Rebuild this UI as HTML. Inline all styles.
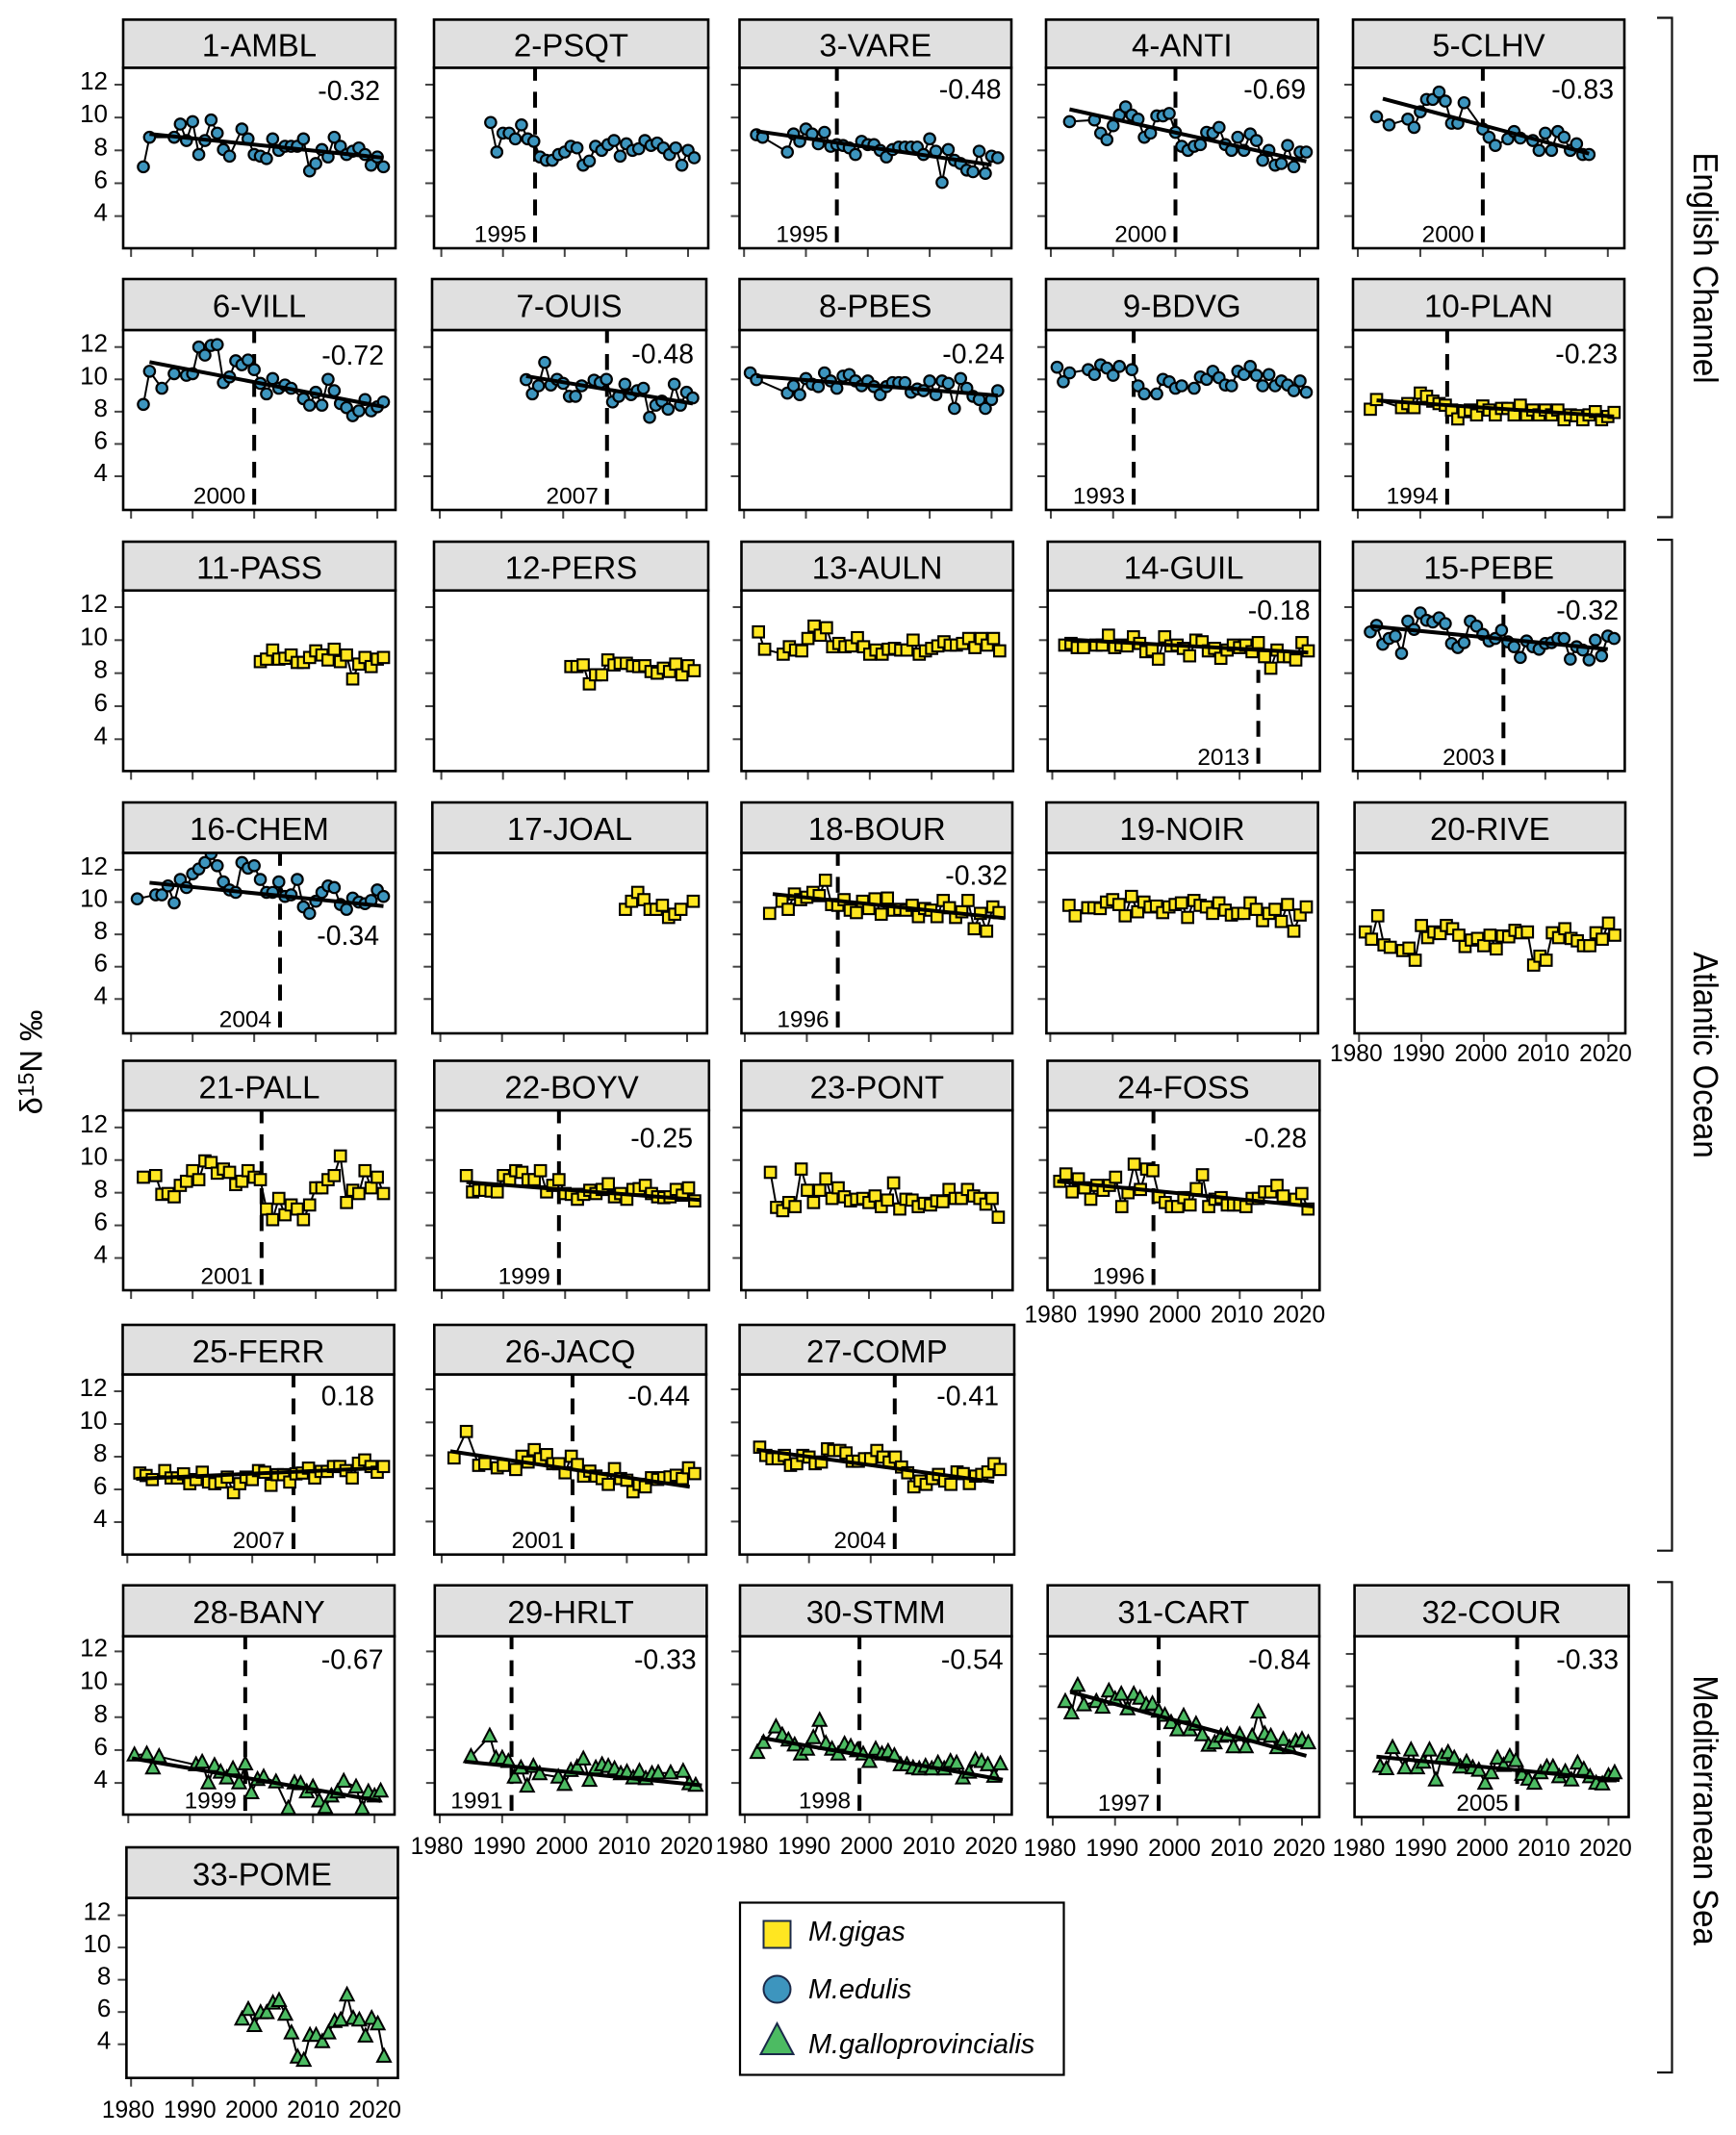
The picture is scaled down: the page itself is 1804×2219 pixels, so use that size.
<!DOCTYPE html>
<html lang="en">
<head>
<meta charset="utf-8">
<title>δ15N time series by site</title>
<style>
html,body{margin:0;padding:0;background:#fff;}
svg{display:block;font-family:"Liberation Sans",sans-serif;}
</style>
</head>
<body>
<svg id="chart" xmlns="http://www.w3.org/2000/svg" width="1804" height="2219" viewBox="0 0 1804 2219">
  <rect x="0" y="0" width="1804" height="2219" fill="#fff"/>
  <g id="panels"></g>

  <text transform="translate(43.5,1104) rotate(-90)" text-anchor="middle" font-size="32.5" fill="#000">δ<tspan font-size="23" dy="-8.5">15</tspan><tspan dy="8.5">N ‰</tspan></text>

  <path d="M1722 18.5H1737.5V537.5H1722" fill="none" stroke="#111" stroke-width="2.2"/>
  <path d="M1722 561H1737.5V1611.7H1722" fill="none" stroke="#111" stroke-width="2.2"/>
  <path d="M1722 1644.3H1737.5V2154H1722" fill="none" stroke="#111" stroke-width="2.2"/>

  <text transform="translate(1760,278.5) rotate(90) scale(1,1.09)" text-anchor="middle" font-size="33" fill="#000">English Channel</text>
  <text transform="translate(1760,1096.5) rotate(90) scale(1,1.09)" text-anchor="middle" font-size="33" fill="#000">Atlantic Ocean</text>
  <text transform="translate(1760,1881.5) rotate(90) scale(1,1.09)" text-anchor="middle" font-size="33" fill="#000">Mediterranean Sea</text>

  <g>
    <rect x="769" y="1977.5" width="336.5" height="179" fill="#fff" stroke="#000" stroke-width="2.2"/>
    <rect x="793.5" y="1996.5" width="28" height="28" fill="#FFE621" stroke="#1b2a4a" stroke-width="2"/>
    <text x="840" y="2017" font-size="28.8" font-style="italic" fill="#000">M.gigas</text>
    <circle cx="807.5" cy="2067.5" r="14" fill="#3D95BE" stroke="#1b2a4a" stroke-width="2"/>
    <text x="840" y="2077" font-size="28.8" font-style="italic" fill="#000">M.edulis</text>
    <polygon points="807.5,2103 824.5,2135 790.5,2135" fill="#4CBB62" stroke="#1b2a4a" stroke-width="2"/>
    <text x="840" y="2134" font-size="28.8" font-style="italic" fill="#000">M.galloprovincialis</text>
  </g>
</svg>

<script>
/* ---------- data ---------- */
const siteNames = ["1-AMBL","2-PSQT","3-VARE","4-ANTI","5-CLHV","6-VILL","7-OUIS","8-PBES","9-BDVG","10-PLAN","11-PASS","12-PERS","13-AULN","14-GUIL","15-PEBE","16-CHEM","17-JOAL","18-BOUR","19-NOIR","20-RIVE","21-PALL","22-BOYV","23-PONT","24-FOSS","25-FERR","26-JACQ","27-COMP","28-BANY","29-HRLT","30-STMM","31-CART","32-COUR","33-POME"];
const siteSpecies = ["edulis","edulis","edulis","edulis","edulis","edulis","edulis","edulis","edulis","gigas","gigas","gigas","gigas","gigas","edulis","edulis","gigas","gigas","gigas","gigas","gigas","gigas","gigas","gigas","gigas","gigas","gigas","gallo","gallo","gallo","gallo","gallo","gallo"];
const slopeLabels = ["-0.32",null,"-0.48","-0.69","-0.83","-0.72","-0.48","-0.24",null,"-0.23",null,null,null,"-0.18","-0.32","-0.34",null,"-0.32",null,null,null,"-0.25",null,"-0.28","0.18","-0.44","-0.41","-0.67","-0.33","-0.54","-0.84","-0.33",null];
const breakLabels = [null,"1995","1995","2000","2000","2000","2007",null,"1993","1994",null,null,null,"2013","2003","2004",null,"1996",null,null,"2001","1999",null,"1996","2007","2001","2004","1999","1991","1998","1997","2005",null];
const breakYears = [null,1995.2,1995,2000,2000,2000,2007.1,null,1993.3,1994.3,null,null,null,2013,2003.3,2004.2,null,1995,null,null,2001.2,1999,null,1996.1,2006.6,2001.2,2003.9,1999,1991.5,1998.4,1997,2005.2,null];
const firstYears = [1982,1988,1982,1983,1983,1982,1994,1981,1981,1982,2001,2001,1982,1982,1982,1981,2010,1984,1983,1981,1982,1984,1984,1981,1982,1982,1982,1981,1985,1982,1982,1983,1998];

const values01 = [7.0,8.8,null,null,null,8.8,9.6,8.6,9.75,7.75,8.6,9.85,9.05,8.05,7.65,null,9.3,8.7,7.75,7.65,7.5,8.7,8.0,8.25,8.25,8.25,8.7,6.75,7.2,8.05,7.6,8.8,8.25,7.75,7.95,8.15,7.75,7.1,7.6,7.0];
const values02 = [9.7,7.9,9.05,9.05,8.7,9.55,8.7,8.55,7.6,7.4,7.4,7.75,7.9,8.25,8.15,7.1,7.35,8.25,8.0,8.35,8.6,7.65,8.4,8.0,8.1,8.6,8.3,8.45,8.15,7.75,8.15,7.1,8.0,7.55];
const values03 = [8.95,8.8,null,null,null,7.9,9.0,8.55,9.3,9.0,8.4,9.1,8.25,8.35,8.3,8.15,7.75,8.55,8.35,8.35,8.0,7.6,8.05,8.2,8.2,8.2,8.2,7.75,8.7,7.95,6.05,8.05,7.4,7.2,6.8,6.7,7.95,6.6,7.65,7.55];
const values04 = [9.75,null,null,null,9.85,9.05,8.65,9.5,10.15,10.65,10.15,9.9,8.8,9.05,10.1,10.1,10.25,9.1,8.25,8.0,8.25,8.35,9.1,9.05,9.4,8.35,8.0,8.8,8.0,9.0,8.6,7.4,8.0,7.1,7.2,8.3,7.0,7.9,7.9];
const values05 = [10.05,null,9.55,null,null,9.9,9.4,10.35,11.1,11.1,11.55,11.0,9.65,9.65,10.9,null,null,9.3,8.8,8.3,null,8.7,9.15,8.75,null,8.6,8.0,9.05,8.0,9.15,8.8,8.0,8.4,7.75,7.75];
const values06 = [8.45,10.5,null,9.45,null,10.35,null,10.25,10.35,12.0,11.5,12.1,12.15,9.8,10.15,11.15,10.9,11.2,10.6,9.75,9.1,10.05,9.45,9.65,9.45,null,8.8,8.4,9.2,8.4,10.0,9.3,8.5,8.25,7.75,8.05,8.75,8.05,8.3,8.6];
const values07 = [9.98,9.1,9.6,11.05,9.65,10.0,9.75,8.95,8.95,9.6,null,9.95,9.8,10.0,8.6,8.95,9.7,9.05,9.3,9.45,7.65,8.4,8.65,8.15,9.7,8.4,9.2,8.85];
const values08 = [10.4,9.98,null,null,null,null,9.15,9.6,9.05,10.05,9.7,9.55,10.4,9.9,9.45,10.2,10.3,9.9,9.6,9.9,9.55,9.05,9.55,9.8,9.8,9.8,9.2,9.4,9.3,9.9,9.05,9.9,9.75,8.2,10.05,9.45,8.95,8.75,8.2,8.75,9.3];
const values09 = [10.75,9.85,10.4,null,null,10.6,10.3,10.9,10.7,10.25,10.8,null,10.6,9.6,9.1,null,9.1,10.0,9.85,9.45,9.6,null,9.45,10.15,10.0,10.5,10.1,9.65,9.6,10.5,10.3,10.8,10.25,9.6,10.3,9.6,9.9,9.65,9.3,9.9,9.2];
const values10 = [8.15,8.75,null,null,null,8.25,8.5,8.25,9.15,8.95,8.65,8.5,8.4,8.1,7.55,8.0,8.1,7.8,8.35,8.1,7.8,8.2,8.2,7.8,8.4,7.8,8.1,7.8,8.1,7.8,8.1,7.5,7.8,7.75,7.5,7.8,8.0,7.5,7.7,7.95];
const values11 = [8.7,8.85,9.4,8.85,8.9,9.1,8.65,8.65,8.95,9.35,9.1,8.8,9.45,8.7,9.1,7.65,8.55,8.95,8.4,8.85,8.95];
const values12 = [8.4,8.4,8.5,7.35,7.9,7.9,8.8,8.5,8.6,8.6,8.45,8.4,8.45,8.1,8.0,8.3,8.1,8.55,7.9,8.45,8.15];
const values13 = [10.5,9.45,null,null,9.15,9.6,9.4,9.35,10.1,10.85,10.3,10.75,9.6,9.8,9.6,9.65,10.15,9.6,9.15,9.4,9.15,9.45,9.5,9.4,9.4,10.0,9.15,9.35,9.5,9.65,9.9,9.7,9.7,9.8,10.1,9.55,10.1,9.7,10.1,9.35];
const values14 = [9.7,9.8,9.55,9.55,null,9.7,9.7,10.3,9.55,9.7,9.65,10.2,9.8,9.3,9.4,8.85,10.2,9.65,9.7,9.5,9.05,10.0,9.9,9.35,9.5,8.9,9.4,9.7,9.55,9.7,9.3,9.85,9.0,8.3,9.4,9.0,9.0,8.8,9.85,9.35];
const values15 = [10.5,10.9,9.75,10.1,10.25,9.2,11.15,10.65,11.65,11.2,11.1,11.35,11.0,9.8,9.55,9.85,11.15,10.85,10.35,9.95,10.1,10.6,9.9,9.6,8.95,9.95,9.6,9.45,9.8,9.85,10.1,10.1,8.85,9.6,9.4,8.8,10.0,9.05,10.25,10.1];
const values16 = [10.2,null,null,10.45,10.45,11.0,9.95,11.4,10.9,11.75,12.05,12.45,13.0,12.25,11.25,10.75,10.6,12.45,12.1,12.25,11.4,10.6,10.6,11.25,10.35,10.45,11.4,9.7,9.3,10.05,10.6,11.0,10.9,9.85,9.55,10.25,10.0,9.9,10.1,10.75,10.35];
const values17 = [9.55,10.05,10.6,10.15,9.55,9.55,9.8,9.05,9.25,9.55,null,10.05];
const values18 = [9.3,null,10.05,9.55,10.5,10.15,10.3,10.6,10.4,11.35,9.85,9.8,10.15,9.5,9.35,10.05,9.6,10.2,9.25,10.25,9.5,9.55,9.5,9.8,9.1,9.6,9.5,9.1,10.1,9.65,9.05,9.4,10.1,8.35,9.3,8.2,9.7,9.35];
const values19 = [9.8,9.15,null,9.65,9.65,9.6,10.0,10.15,9.85,9.15,10.35,9.4,10.0,9.7,9.75,9.35,9.7,9.85,9.95,9.05,10.1,9.8,9.7,9.3,9.95,9.5,9.2,9.3,9.3,9.95,9.55,8.85,9.3,9.55,8.8,9.85,8.2,9.2,9.7];
const values20 = [8.15,7.7,9.15,7.35,7.2,null,7.0,7.15,6.4,8.55,7.8,8.15,8.05,8.55,8.35,7.95,7.25,7.65,7.75,7.3,7.95,7.1,7.9,7.85,8.25,8.1,8.15,6.1,6.65,6.4,8.1,7.8,8.35,7.75,7.6,7.3,7.3,8.1,7.7,8.7,7.95];
const values21 = [8.95,null,9.05,7.9,7.95,7.75,8.45,8.7,9.35,8.8,9.95,9.85,9.2,9.45,9.25,8.5,8.7,9.35,8.95,8.8,7.0,6.35,7.65,6.65,7.25,7.0,6.35,7.25,8.3,8.3,8.8,9.05,10.25,7.4,8.15,7.95,9.35,8.3,8.95,7.95];
const values22 = [9.05,8.05,8.15,8.15,8.1,8.05,9.05,8.8,9.35,9.25,8.8,8.8,9.35,8.05,8.45,8.8,7.95,7.9,7.6,7.9,8.15,7.95,8.2,8.55,7.75,7.95,7.6,8.2,8.25,8.45,7.95,7.75,7.7,7.75,8.2,7.85,8.3,7.5];
const values23 = [9.25,7.1,6.9,7.4,7.15,9.45,8.15,7.4,8.15,8.85,7.65,8.3,7.75,7.5,7.6,7.65,7.4,7.8,7.15,7.55,8.6,7.0,7.6,7.55,7.15,7.35,7.25,7.5,7.45,8.2,7.65,7.65,8.2,7.8,7.65,7.3,7.65,6.5];
const values24 = [8.7,9.15,8.05,8.85,8.3,7.6,8.45,8.15,8.45,8.95,7.15,8.0,9.75,8.2,9.45,9.35,7.75,7.4,7.15,7.15,7.7,7.25,8.25,9.1,7.15,7.6,7.7,7.25,7.25,7.25,7.15,7.65,7.65,8.05,8.05,8.45,7.8,null,7.6,7.95,7.0];
const values25 = [7.0,6.85,6.6,null,7.15,6.7,6.7,6.95,6.35,6.6,7.05,6.45,6.35,6.45,6.75,5.8,6.35,6.75,6.6,7.15,7.05,6.25,6.9,6.9,6.45,6.95,7.0,7.3,6.7,7.1,7.1,7.4,7.4,7.15,6.7,7.6,7.8,7.4,7.05,7.4];
const values26 = [7.85,null,9.45,null,7.4,7.5,null,7.25,7.4,null,7.15,7.95,7.6,8.35,7.8,8.05,7.5,7.5,6.95,7.95,7.45,6.75,7.05,6.75,6.6,6.25,7.2,6.6,6.5,5.8,6.25,6.1,6.65,6.55,6.65,6.7,6.8,6.6,7.25,6.9];
const values27 = [8.5,8.0,7.8,7.8,8.0,7.4,7.5,8.0,7.9,7.5,7.6,8.4,8.3,8.3,8.15,7.65,7.65,7.8,7.8,8.3,7.9,7.6,7.9,7.3,6.95,6.1,6.45,6.25,6.6,6.85,6.45,6.25,7.0,6.9,6.3,6.75,6.85,7.0,7.5,7.15];
const values28 = [5.7,null,5.75,4.9,5.6,null,null,null,null,null,5.1,5.25,4.0,5.05,4.65,4.3,4.85,4.0,5.15,3.4,4.2,4.35,null,4.05,null,2.45,4.0,3.95,3.45,3.75,2.9,2.5,3.2,3.45,4.1,null,3.75,2.45,3.45,3.2,3.5];
const values29 = [5.6,null,null,6.85,5.5,5.5,5.3,4.35,4.9,3.8,5.0,4.55,null,null,4.35,3.9,4.75,4.95,5.45,4.15,4.9,5.1,5.0,4.85,4.55,4.65,4.3,4.7,4.25,4.55,4.6,null,4.6,null,4.7,3.95,3.85];
const values30 = [5.85,6.45,null,7.4,6.9,6.6,6.3,5.75,6.05,6.75,7.8,6.4,6.05,5.75,6.35,6.2,5.95,5.75,5.3,6.05,5.75,5.9,5.65,5.1,5.1,4.9,4.85,5.0,4.85,5.2,4.85,5.3,5.2,4.3,4.65,5.4,5.3,5.1,4.4,5.15];
const values31 = [9.05,8.35,10.05,8.85,null,9.05,8.7,9.7,9.2,9.5,8.6,9.5,9.25,8.85,8.9,8.45,8.2,7.75,7.3,8.15,7.3,7.65,7.0,6.35,6.5,6.9,7.0,6.25,7.0,6.25,6.9,8.4,7.05,6.9,6.2,6.7,6.2,6.6,6.7,6.5];
const values32 = [5.05,4.9,6.2,null,4.95,6.05,4.95,5.3,6.05,4.2,5.65,5.9,5.55,5.0,5.3,4.95,4.8,4.0,4.65,5.55,5.1,5.65,5.4,4.55,4.25,4.0,4.65,5.0,5.0,4.4,4.7,4.2,5.25,4.85,4.4,4.0,3.95,4.45,4.65];
const values33 = [5.55,6.15,5.15,5.95,5.95,6.55,6.7,5.85,4.7,3.2,3.0,4.55,4.55,4.15,4.7,5.4,5.5,7.05,5.6,5.5,4.5,5.6,5.25,3.25];
const allValues = [values01,values02,values03,values04,values05,values06,values07,values08,values09,values10,values11,values12,values13,values14,values15,values16,values17,values18,values19,values20,values21,values22,values23,values24,values25,values26,values27,values28,values29,values30,values31,values32,values33];

const trendStartYear = [1983,null,1982,1983,1984,1983,1994,1982,null,1983,null,null,null,1982,1982,1983,null,1984.5,null,null,null,1984,null,1980.6,1981.4,1981.4,1981.5,1980.6,1984,1982.6,1982.8,1982.4,null];
const trendEndYear = [2021,null,2020,2021,2017,2021,2021,2021,null,2021,null,null,null,2021,2020,2021,null,2022,null,null,null,2022,null,2022,2020,2020.2,2020,2021,2022,2021.4,2020.7,2021.8,null];
const trendStartValue = [9.0,null,9.17,10.5,11.15,11.07,10.2,10.2,null,8.7,null,null,null,10.05,10.85,11.2,null,10.5,null,null,null,8.65,null,8.7,6.65,8.25,8.35,5.5,5.3,6.75,9.65,5.65,null];
const trendEndValue = [7.55,null,7.12,7.33,7.8,8.3,8.5,9.0,null,7.7,null,null,null,9.25,9.45,9.75,null,9.0,null,null,null,7.55,null,7.15,7.3,6.1,6.4,2.9,3.85,4.2,5.7,4.2,null];

const yTickValues = [12,10,8,6,4];
const xTickValues = [1980,1990,2000,2010,2020];

/* ---------- layout (pixels, not data) ---------- */
const boxLeft   = [128,451,768.5,1087,1406, 128,449,768.5,1087,1406, 128,451,770.5,1088.7,1406, 128,449.3,770.5,1087.4,1407.6, 128,451.3,770.3,1088.5, 127.5,451.3,768.6, 128,451.8,769,1088.7,1407.6, 131.4];
const boxRight  = [411,736,1051,1369.6,1688, 411,734,1051,1369.6,1688, 411,736,1052.8,1371.6,1688.4, 411,734.8,1052,1369.6,1689, 411,736.8,1052.3,1371.3, 409.6,733.9,1054, 410,734.4,1051.4,1371,1692.5, 413.5];
const rowTop    = [20.4,290,563,834,1102.5,1377,1647.7,1920];
const rowStrip  = [70.4,343,613.7,886.4,1154,1428.5,1700.6,1972.6];
const rowBottom = [258,530,801.4,1074,1341,1615.7,1886,2159.7];
const panelRow  = [0,0,0,0,0,1,1,1,1,1,2,2,2,2,2,3,3,3,3,3,4,4,4,4,5,5,5,6,6,6,6,6,7];
const bottomOverride = {30:1888.5,31:1888.5};
const tick1980  = [136.2,458.6,773.2,1092,1411, 136.2,457,773.2,1092,1411, 136.2,458.6,775.3,1093.5,1411, 136.2,457.6,774,1091.4,1412.3, 136.2,459,775,1094.8, 132.3,459,776.6, 133.3,457,774,1094,1415, 136.2];
const tick2020  = [392.1,715,1030.4,1351,1670.8, 392.1,713.5,1030.4,1351,1670.8, 392.1,715,1032.4,1353,1670.8, 392.1,714,1031.7,1351,1671.5, 392.1,715.5,1031,1352.8, 392,715.5,1033, 389.2,716.4,1033,1353,1671.5, 392.6];
const tick12    = [88,88,88,88,88, 360.7,360.7,360.7,360.7,360.7, 631,631,631,631,631, 904,904,904,904,904, 1171.8,1171.8,1171.8,1171.8, 1446,1444,1444, 1716.4,1716.4,1716.4,1719,1719, 1990.6];
const tick4     = [224.6,224.6,224.6,224.6,224.6, 495,495,495,495,495, 768.3,768.3,768.3,768.3,768.3, 1038.3,1038.3,1038.3,1038.3,1038.3, 1307.5,1307.5,1307.5,1307.5, 1582,1581.4,1581.4, 1853.1,1853.1,1853.1,1853.5,1853.5, 2124.7];
const slopeRight = [395,0,1040.5,1357,1677, 399,721,1044,0,1681, 0,0,0,1361.5,1682, 394,0,1047,0,0, 0,720,0,1358, 389,717,1038, 398.5,723.7,1042.6,1362,1682, 0];
const slopeBase  = [104,0,102.5,102.5,102.5, 379,377.5,377.5,0,377.5, 0,0,0,644,644, 982,0,919.5,0,0, 0,1192.5,0,1192.5, 1460.4,1460.4,1460.4, 1734.4,1734.4,1734.4,1734.4,1734.4, 0];
const yLabelPanels = [0,5,10,15,20,24,27,32];
const xLabelPanels = {19:29,23:33.6,28:41,29:41,30:40.5,31:40.5,32:41.4};
const breakLineStart = {13:8.2};

const NS = "http://www.w3.org/2000/svg";
const speciesFill = {gigas:"#FFE621",edulis:"#3D95BE",gallo:"#4CBB62"};

function make(tag, attrs, parent){
  const el = document.createElementNS(NS, tag);
  for (const k in attrs) el.setAttribute(k, attrs[k]);
  parent.appendChild(el);
  return el;
}
function xAxis(i){
  const a = tick1980[i], b = (tick2020[i]-tick1980[i])/40;
  return function(year){ return a + (year-1980)*b; };
}
function yAxis(i){
  const a = tick4[i], b = (tick12[i]-tick4[i])/8;
  return function(v){ return a + (v-4)*b; };
}

const root = document.getElementById("panels");

siteNames.forEach(function(name, i){
  const r = panelRow[i];
  const L = boxLeft[i], R = boxRight[i], T = rowTop[r], S = rowStrip[r];
  const B = bottomOverride[i] !== undefined ? bottomOverride[i] : rowBottom[r];
  const X = xAxis(i), Y = yAxis(i);
  const key = name.toLowerCase();

  const g = make("g", {}, root);
  
  

  const plot = make("rect", {x:L, y:S, width:R-L, height:B-S, fill:"#fff"}, g);
  
  

  const clip = make("clipPath", {id:"clip"+i}, g);
  make("rect", {x:L, y:S, width:R-L, height:B-S}, clip);

  /* ticks */
  yTickValues.forEach(function(v){
    const t = make("line", {x1:L-9, x2:L, y1:Y(v), y2:Y(v), stroke:"#444", "stroke-width":2}, g);
    
    
    if (yLabelPanels.indexOf(i) >= 0){
      const lab = make("text", {x:L-16, y:Y(v)+5, "text-anchor":"end", "font-size":26, fill:"#000"}, g);
      lab.textContent = v;
      
      
    }
  });
  xTickValues.forEach(function(yr){
    const t = make("line", {x1:X(yr), x2:X(yr), y1:B, y2:B+9, stroke:"#444", "stroke-width":2}, g);
    
    
    if (xLabelPanels[i] !== undefined){
      const lab = make("text", {x:X(yr)-3, y:B+xLabelPanels[i], "text-anchor":"middle", "font-size":24.6, fill:"#000"}, g);
      lab.textContent = yr;
      
      
    }
  });

  const clipped = make("g", {"clip-path":"url(#clip"+i+")"}, g);
  
  

  /* break line */
  if (breakYears[i] !== null){
    const bx = X(breakYears[i]);
    const startY = breakLineStart[i] !== undefined ? Y(breakLineStart[i]) : S;
    const br = make("line", {x1:bx, x2:bx, y1:startY, y2:B, stroke:"#000", "stroke-width":4, "stroke-dasharray":"16.5 11.5", "stroke-dashoffset":3}, clipped);
    
    
  }

  /* series */
  const vals = allValues[i];
  const pts = [];
  vals.forEach(function(v, k){
    if (v !== null) pts.push([firstYears[i]+k, v]);
  });
  const line = make("polyline", {points:pts.map(function(p){return X(p[0]).toFixed(1)+","+Y(p[1]).toFixed(1);}).join(" "), fill:"none", stroke:"#000", "stroke-width":2}, clipped);
  
  

  const sp = siteSpecies[i], fill = speciesFill[sp];
  pts.forEach(function(p){
    const cx = X(p[0]), cy = Y(p[1]);
    let m;
    if (sp === "edulis"){
      m = make("circle", {cx:cx, cy:cy, r:5.7, fill:fill, stroke:"#000", "stroke-width":2.2}, clipped);
    } else if (sp === "gigas"){
      m = make("rect", {x:cx-5.8, y:cy-5.8, width:11.6, height:11.6, fill:fill, stroke:"#000", "stroke-width":2.1}, clipped);
    } else {
      m = make("polygon", {points:[[cx,cy-7.8],[cx+7,cy+5.6],[cx-7,cy+5.6]].map(function(q){return q[0].toFixed(1)+","+q[1].toFixed(1);}).join(" "), fill:fill, stroke:"#000", "stroke-width":2}, clipped);
    }
    
    
  });

  /* trend */
  if (trendStartYear[i] !== null){
    const tr = make("line", {x1:X(trendStartYear[i]), y1:Y(trendStartValue[i]), x2:X(trendEndYear[i]), y2:Y(trendEndValue[i]), stroke:"#000", "stroke-width":4}, clipped);
    
    
  }

  /* frame + strip */
  const frame = make("rect", {x:L, y:S, width:R-L, height:B-S, fill:"none", stroke:"#000", "stroke-width":2.6}, g);
  
  
  const strip = make("rect", {x:L, y:T, width:R-L, height:S-T, fill:"#E0E0E0", stroke:"#000", "stroke-width":2.6}, g);
  
  
  const title = make("text", {x:(L+R)/2, y:(T+S)/2+13, "text-anchor":"middle", "font-size":33, fill:"#000"}, g);
  title.textContent = name;
  
  

  /* annotations */
  if (slopeLabels[i] !== null){
    const sl = make("text", {x:slopeRight[i], y:slopeBase[i], "text-anchor":"end", "font-size":28.4, fill:"#000"}, g);
    sl.textContent = slopeLabels[i];
    
    
  }
  if (breakLabels[i] !== null){
    const bl = make("text", {x:X(breakYears[i])-9, y:B-6.5, "text-anchor":"end", "font-size":24.4, fill:"#000"}, g);
    bl.textContent = breakLabels[i];
    
    
  }
});
</script>
</body>
</html>
